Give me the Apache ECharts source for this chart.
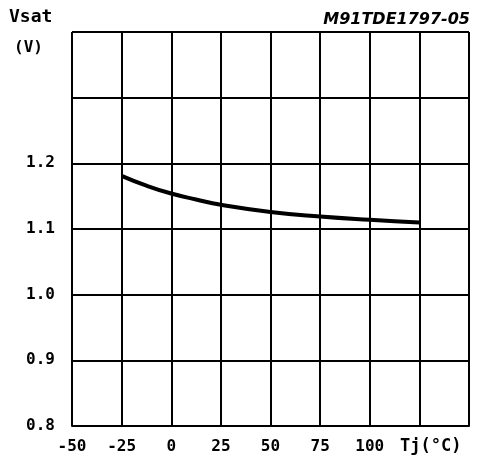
<!DOCTYPE html>
<html>
<head>
<meta charset="utf-8">
<script src="https://cdn.jsdelivr.net/npm/echarts@6/dist/echarts.min.js"></script>
<style>
html,body{margin:0;padding:0;background:#fff;}
#c{width:484px;height:466px;}
</style>
</head>
<body>
<div id="c"></div>
<script>
// Data
const temps = [-25, -12.5, 0, 12.5, 25, 50, 75, 100, 125];
const vsat  = [1.181, 1.166, 1.154, 1.145, 1.137, 1.126, 1.119, 1.114, 1.110];
const xTickLabels = {'-50':'-50','-25':'-25','0':'0','25':'25','50':'50','75':'75','100':'100'};
const yTickLabels = {'0.8':'0.8','0.9':'0.9','1':'1.0','1.1':'1.1','1.2':'1.2'};

const font = 'DejaVu Sans Mono';
const chart = echarts.init(document.getElementById('c'));
chart.setOption({
  animation: false,
  backgroundColor: '#fff',
  grid: {left: 72, right: 15, top: 32, bottom: 40},
  xAxis: {
    type: 'value', min: -50, max: 150, interval: 25,
    axisLine: {show: true, lineStyle: {color: '#000', width: 2}},
    axisTick: {show: false},
    splitLine: {show: true, lineStyle: {color: '#000', width: 2}},
    axisLabel: {
      margin: 13, color: '#000', fontFamily: font, fontWeight: 'bold', fontSize: 16,
      formatter: v => xTickLabels[String(Math.round(v*100)/100)] || ''
    }
  },
  yAxis: {
    type: 'value', min: 0.8, max: 1.4, interval: 0.1,
    axisLine: {show: true, lineStyle: {color: '#000', width: 2}},
    axisTick: {show: false},
    splitLine: {show: true, lineStyle: {color: '#000', width: 2}},
    axisLabel: {
      margin: 17, color: '#000', fontFamily: font, fontWeight: 'bold', fontSize: 16,
      formatter: v => yTickLabels[String(Math.round(v*10)/10)] || ''
    }
  },
  series: [{
    type: 'line', data: temps.map((t, i) => [t, vsat[i]]),
    smooth: true, showSymbol: false,
    lineStyle: {color: '#000', width: 4}
  }],
  graphic: [
    {type: 'text', left: 9, top: 8, style: {text: 'Vsat', fill: '#000', font: 'bold 18px "DejaVu Sans Mono"'}},
    {type: 'text', left: 14, top: 40, style: {text: '(V)', fill: '#000', font: 'bold 16px "DejaVu Sans Mono"'}},
    {type: 'text', right: 14, top: 12, style: {text: 'M91TDE1797-05', fill: '#000', font: 'italic bold 16px "DejaVu Sans"'}},
    {type: 'text', left: 400, top: 438, style: {text: 'Tj(°C)', fill: '#000', font: 'bold 17px "DejaVu Sans Mono"'}}
  ]
});
</script>
</body>
</html>
